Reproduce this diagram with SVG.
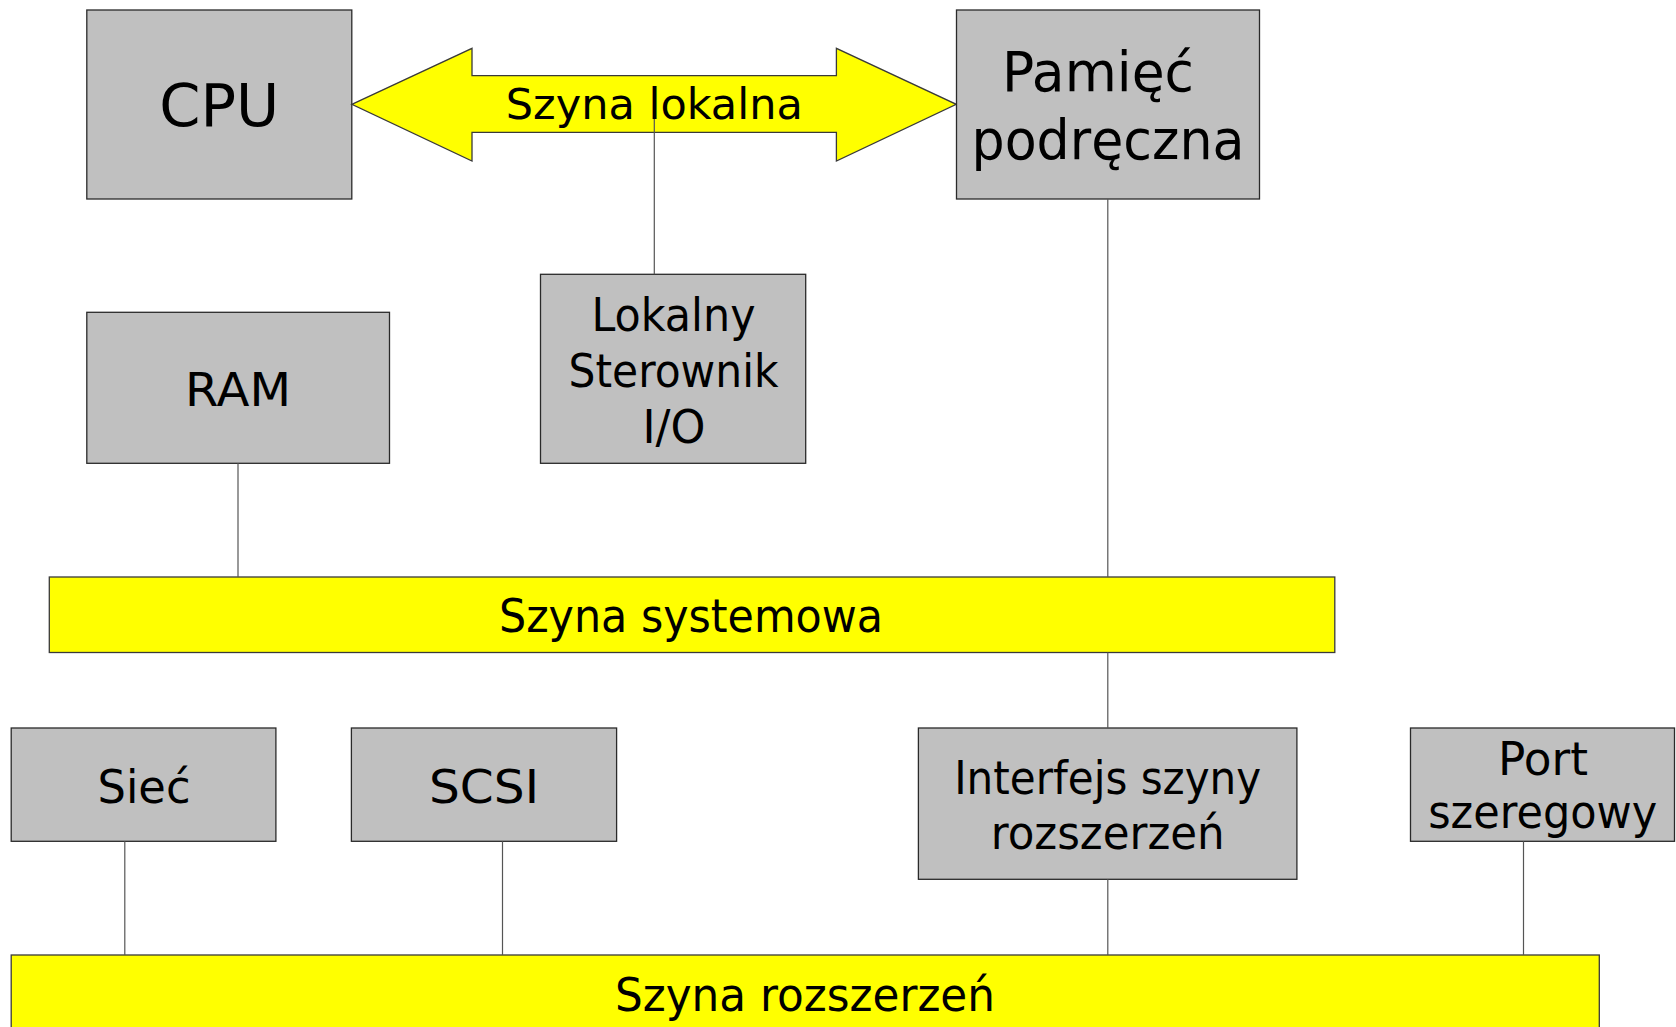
<svg xmlns="http://www.w3.org/2000/svg" width="1676" height="1027" viewBox="0 0 1676 1027">
<style>
  .box { fill: #c0c0c0; stroke: #2a2a2a; stroke-width: 1.3; }
  .bus { fill: #ffff00; stroke: #3a3a3a; stroke-width: 1.3; }
  .lbl { font-family: "DejaVu Sans", "Liberation Sans", sans-serif; fill: #000; text-anchor: middle; }
  .conn line { stroke: #555; stroke-width: 1.2; }
</style>
<rect width="1676" height="1027" fill="#fff"/>

<g id="cpu">
  <rect class="box" x="86.8" y="10" width="265" height="189"/>
  <text class="lbl" x="219.3" y="125.7" font-size="59" textLength="120" lengthAdjust="spacingAndGlyphs">CPU</text>
</g>

<g id="szyna-lokalna">
  <polygon class="bus" points="351.8,104.3 472,48.3 472,75.7 836.4,75.7 836.4,48.3 956.3,104.3 836.4,161 836.4,132.3 472,132.3 472,161"/>
</g>

<g id="pamiec">
  <rect class="box" x="956.5" y="10" width="303" height="189"/>
  <text class="lbl" x="1098" y="91" font-size="55" textLength="192" lengthAdjust="spacingAndGlyphs">Pamięć</text>
  <text class="lbl" x="1108" y="158.5" font-size="55" textLength="273" lengthAdjust="spacingAndGlyphs">podręczna</text>
</g>

<g id="ram">
  <rect class="box" x="86.8" y="312.3" width="302.7" height="151"/>
  <text class="lbl" x="238" y="405.7" font-size="47" textLength="106" lengthAdjust="spacingAndGlyphs">RAM</text>
</g>

<g id="lokalny-sterownik">
  <rect class="box" x="540.5" y="274.3" width="265.2" height="189"/>
  <text class="lbl" x="673.5" y="331" font-size="47" textLength="164" lengthAdjust="spacingAndGlyphs">Lokalny</text>
  <text class="lbl" x="673.5" y="387.3" font-size="47" textLength="210" lengthAdjust="spacingAndGlyphs">Sterownik</text>
  <text class="lbl" x="674" y="442.7" font-size="47" textLength="63" lengthAdjust="spacingAndGlyphs">I/O</text>
</g>

<g id="szyna-systemowa">
  <rect class="bus" x="49.3" y="577" width="1285.5" height="75.5"/>
  <text class="lbl" x="691" y="631.7" font-size="46" textLength="384" lengthAdjust="spacingAndGlyphs">Szyna systemowa</text>
</g>

<g id="siec">
  <rect class="box" x="11.2" y="728" width="264.7" height="113.3"/>
  <text class="lbl" x="144" y="802.7" font-size="47" textLength="93" lengthAdjust="spacingAndGlyphs">Sieć</text>
</g>

<g id="scsi">
  <rect class="box" x="351.4" y="728" width="265.2" height="113.3"/>
  <text class="lbl" x="484" y="802.7" font-size="47" textLength="110" lengthAdjust="spacingAndGlyphs">SCSI</text>
</g>

<g id="interfejs">
  <rect class="box" x="918.4" y="728" width="378.5" height="151.3"/>
  <text class="lbl" x="1107.7" y="794.3" font-size="46" textLength="307" lengthAdjust="spacingAndGlyphs">Interfejs szyny</text>
  <text class="lbl" x="1107.7" y="849" font-size="46" textLength="234" lengthAdjust="spacingAndGlyphs">rozszerzeń</text>
</g>

<g id="port">
  <rect class="box" x="1410.5" y="728" width="264" height="113.3"/>
  <text class="lbl" x="1543" y="775" font-size="46" textLength="90" lengthAdjust="spacingAndGlyphs">Port</text>
  <text class="lbl" x="1542.7" y="828.3" font-size="46" textLength="229" lengthAdjust="spacingAndGlyphs">szeregowy</text>
</g>

<g id="szyna-rozszerzen">
  <rect class="bus" x="11.2" y="955" width="1588.1" height="90"/>
  <text class="lbl" x="805" y="1011" font-size="47" textLength="380" lengthAdjust="spacingAndGlyphs">Szyna rozszerzeń</text>
</g>

<g id="connectors" class="conn">
  <line x1="654.3" y1="104.3" x2="654.3" y2="274.3"/>
  <line x1="1107.8" y1="199" x2="1107.8" y2="577"/>
  <line x1="238" y1="463.3" x2="238" y2="577"/>
  <line x1="1107.8" y1="652.5" x2="1107.8" y2="728"/>
  <line x1="124.8" y1="841.3" x2="124.8" y2="955"/>
  <line x1="502.5" y1="841.3" x2="502.5" y2="955"/>
  <line x1="1107.8" y1="879.3" x2="1107.8" y2="955"/>
  <line x1="1523.5" y1="841.3" x2="1523.5" y2="955"/>
</g>

<g id="szyna-lokalna-label">
  <text class="lbl" x="654.3" y="119.3" font-size="42.5" textLength="297" lengthAdjust="spacingAndGlyphs">Szyna lokalna</text>
</g>
</svg>
